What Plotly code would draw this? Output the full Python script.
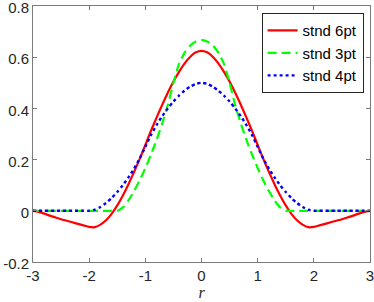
import plotly.graph_objects as go

# half-axis sample positions (kernels are symmetric in r)
r_half = [0.0, 0.1, 0.2, 0.3, 0.4, 0.5, 0.6, 0.7, 0.8, 0.9, 1.0,
          1.1, 1.2, 1.3, 1.4, 1.5, 1.6, 1.7, 1.8, 1.9, 2.0,
          2.1, 2.2, 2.3, 2.4, 2.5, 2.6, 2.7, 2.8, 2.9, 3.0]

stnd_6pt = [0.625, 0.619, 0.602, 0.576, 0.543, 0.505, 0.461, 0.414, 0.364, 0.312, 0.257,
            0.203, 0.152, 0.104, 0.060, 0.021, -0.012, -0.037, -0.054, -0.064, -0.063,
            -0.057, -0.051, -0.045, -0.039, -0.033, -0.026, -0.019, -0.011, -0.004, 0.0]

stnd_3pt = [0.6667, 0.6616, 0.6460, 0.6181, 0.5737, 0.5000, 0.4131, 0.3409, 0.2770, 0.2192, 0.1667,
            0.1192, 0.0770, 0.0409, 0.0131, 0.0, 0.0, 0.0, 0.0, 0.0, 0.0,
            0.0, 0.0, 0.0, 0.0, 0.0, 0.0, 0.0, 0.0, 0.0, 0.0]

stnd_4pt = [0.5000, 0.4958, 0.4851, 0.4696, 0.4500, 0.4268, 0.4000, 0.3696, 0.3351, 0.2958, 0.2500,
            0.2042, 0.1649, 0.1304, 0.1000, 0.0732, 0.0500, 0.0304, 0.0149, 0.0042, 0.0,
            0.0, 0.0, 0.0, 0.0, 0.0, 0.0, 0.0, 0.0, 0.0, 0.0]

x_ticks = [-3, -2, -1, 0, 1, 2, 3]
y_ticks = [-0.2, 0, 0.2, 0.4, 0.6, 0.8]
y_tick_labels = ["-0.2", "0", "0.2", "0.4", "0.6", "0.8"]


def full(vals):
    return vals[:0:-1] + vals


r_full = [-v for v in r_half[:0:-1]] + r_half

fig = go.Figure()
fig.add_trace(go.Scatter(x=r_full, y=full(stnd_6pt), mode="lines", name="stnd 6pt",
                         line=dict(color="#ff0000", width=2.2, shape="spline", smoothing=0.6)))
fig.add_trace(go.Scatter(x=r_full, y=full(stnd_3pt), mode="lines", name="stnd 3pt",
                         line=dict(color="#00ff00", width=2.2, dash="9px,5px", shape="spline", smoothing=0.6)))
fig.add_trace(go.Scatter(x=r_full, y=full(stnd_4pt), mode="lines", name="stnd 4pt",
                         line=dict(color="#0000ff", width=2.4, dash="dot", shape="spline", smoothing=0.6)))

axis_common = dict(showgrid=False, zeroline=False, showline=True, linecolor="#7a7a7a", linewidth=1,
                   mirror="allticks", ticks="inside", ticklen=4, tickcolor="#7a7a7a", automargin=False,
                   ticklabeloverflow="allow",
                   tickfont=dict(family="Liberation Sans, Arial, sans-serif", size=15, color="#262626"))

fig.update_xaxes(range=[-3.0001, 3.0001], tickvals=x_ticks, ticktext=[str(v) for v in x_ticks],
                 title=dict(text="<i>r</i>", standoff=0,
                            font=dict(family="Liberation Serif, Times New Roman, serif", size=16, color="#262626")),
                 **axis_common)
fig.update_yaxes(range=[-0.2001, 0.8001], tickvals=y_ticks, ticktext=y_tick_labels,
                 ticklabelshift=2, **axis_common)

fig.update_layout(
    width=374, height=302,
    margin=dict(l=33, r=4, t=6, b=40),
    plot_bgcolor="white", paper_bgcolor="white",
    showlegend=True,
    legend=dict(x=0.981, y=0.972, xanchor="right", yanchor="top",
                bgcolor="white", bordercolor="#262626", borderwidth=1,
                font=dict(family="Liberation Sans, Arial, sans-serif", size=15, color="#000000"),
                itemwidth=30, tracegroupgap=0),
)

fig.write_html("out.html", post_script="document.body.style.margin='0px';",
               config={"displayModeBar": False})
